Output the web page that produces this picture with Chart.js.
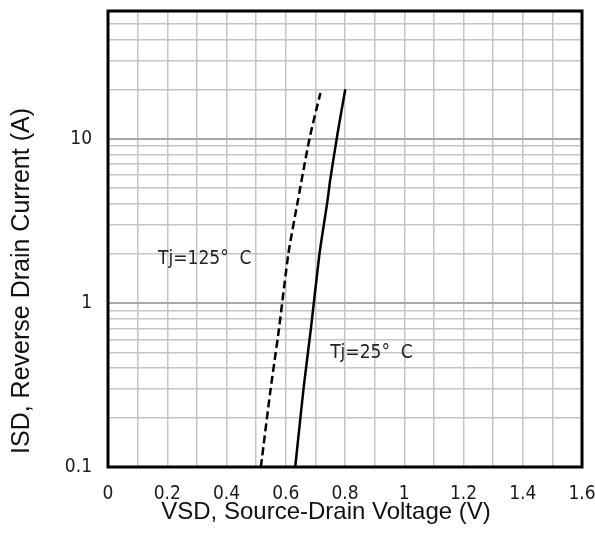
<!DOCTYPE html>
<html>
<head>
<meta charset="utf-8">
<script src="https://cdn.jsdelivr.net/npm/chart.js@4.4.1/dist/chart.umd.min.js"></script>
<style>
  html, body { margin: 0; padding: 0; background: #fff; }
  canvas { display: block; }
</style>
</head>
<body>
<canvas id="vsdChart" width="595" height="548"></canvas>
<script>
// Tj = 25 °C  (solid)
const vsd25 = [0.632, 0.660, 0.685, 0.714, 0.741, 0.750, 0.775, 0.801];
const isd25 = [0.1, 0.3, 0.7, 2.0, 4.2, 5.6, 10.8, 20];
// Tj = 125 °C (dashed)
const vsd125 = [0.516, 0.548, 0.577, 0.609, 0.641, 0.680, 0.717];
const isd125 = [0.1, 0.29, 0.69, 2.0, 4.2, 10, 19];

const xTicks = [0, 0.1, 0.2, 0.3, 0.4, 0.5, 0.6, 0.7, 0.8, 0.9, 1, 1.1, 1.2, 1.3, 1.4, 1.5, 1.6];
const xLabels = ["0", "", "0.2", "", "0.4", "", "0.6", "", "0.8", "", "1", "", "1.2", "", "1.4", "", "1.6"];
const yTicks = [0.1, 0.2, 0.3, 0.4, 0.5, 0.6, 0.7, 0.8, 0.9,
                1, 2, 3, 4, 5, 6, 7, 8, 9,
                10, 20, 30, 40, 50, 60];
const yMajor = [0.1, 1, 10];
const yLabels = { 0.1: "0.1", 1: "1", 10: "10" };

const narrow = "'Liberation Sans Narrow', 'Arial Narrow', 'DejaVu Sans Condensed', sans-serif";
const arial = "'Liberation Sans', Arial, sans-serif";

const toPoints = (xs, ys) => xs.map((x, i) => ({ x: x, y: ys[i] }));

const framePlugin = {
  id: "frame",
  afterDraw(chart) {
    const { ctx, chartArea: a, scales } = chart;
    ctx.save();
    // plot frame
    ctx.strokeStyle = "#000";
    ctx.lineWidth = 3;
    ctx.strokeRect(a.left, a.top, a.right - a.left, a.bottom - a.top);

    // curve labels
    ctx.fillStyle = "#222";
    ctx.font = "19px " + narrow;
    ctx.textAlign = "left";
    ctx.textBaseline = "middle";
    ctx.fillText("Tj=125°  C", scales.x.getPixelForValue(0.169), scales.y.getPixelForValue(1.85));
    ctx.fillText("Tj=25°  C", scales.x.getPixelForValue(0.75), scales.y.getPixelForValue(0.495));

    // axis titles
    ctx.fillStyle = "#111";
    ctx.font = "24px " + arial;
    ctx.textAlign = "center";
    ctx.fillText("VSD, Source-Drain Voltage (V)", 326, 512);
    ctx.translate(22, 281);
    ctx.rotate(-Math.PI / 2);
    ctx.font = "25px " + arial;
    ctx.fillText("ISD, Reverse Drain Current (A)", 0, 0);
    ctx.restore();
  }
};

new Chart(document.getElementById("vsdChart"), {
  type: "scatter",
  data: {
    datasets: [
      {
        label: "Tj=125°C",
        data: toPoints(vsd125, isd125),
        showLine: true,
        borderColor: "#000",
        borderWidth: 2.5,
        borderDash: [8, 4],
        pointRadius: 0,
        tension: 0.2
      },
      {
        label: "Tj=25°C",
        data: toPoints(vsd25, isd25),
        showLine: true,
        borderColor: "#000",
        borderWidth: 2.5,
        pointRadius: 0,
        tension: 0.2
      }
    ]
  },
  options: {
    responsive: false,
    animation: false,
    layout: { padding: { top: 11, right: 13, left: 0, bottom: 0 } },
    plugins: {
      legend: { display: false },
      tooltip: { enabled: false }
    },
    scales: {
      x: {
        type: "linear",
        min: 0,
        max: 1.6,
        afterBuildTicks: (s) => { s.ticks = xTicks.map(v => ({ value: v })); },
        afterFit: (s) => {
          s.height = 81;
          s.paddingLeft = 0;
          s.paddingRight = 0;
        },
        ticks: {
          autoSkip: false,
          maxRotation: 0,
          padding: 16,
          color: "#1a1a1a",
          font: { family: narrow, size: 19 },
          callback: (v, i) => xLabels[i]
        },
        grid: { drawTicks: false, color: "#c4c4c4", lineWidth: 1.5 },
        border: { display: false }
      },
      y: {
        type: "logarithmic",
        min: 0.1,
        max: 60,
        afterBuildTicks: (s) => { s.ticks = yTicks.map(v => ({ value: v })); },
        afterFit: (s) => {
          s.width = 108;
          s.paddingTop = 0;
          s.paddingBottom = 0;
        },
        ticks: {
          autoSkip: false,
          padding: 16,
          color: "#1a1a1a",
          font: { family: narrow, size: 19 },
          callback: (v) => yLabels[v] ?? ""
        },
        grid: {
          drawTicks: false,
          color: (c) => (c.tick && yMajor.includes(c.tick.value)) ? "#a9a9a9" : "#c4c4c4",
          lineWidth: (c) => (c.tick && yMajor.includes(c.tick.value)) ? 2 : 1.5
        },
        border: { display: false }
      }
    }
  },
  plugins: [framePlugin]
});
</script>
</body>
</html>
